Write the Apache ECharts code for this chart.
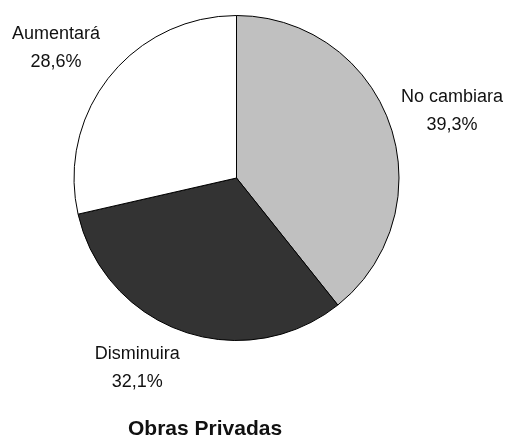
<!DOCTYPE html>
<html>
<head>
<meta charset="utf-8">
<script src="https://cdn.jsdelivr.net/npm/echarts@6/dist/echarts.min.js"></script>
<style>
  html, body { margin: 0; padding: 0; background: #fff; }
  #chart { width: 506px; height: 437px; }
</style>
</head>
<body>
<div id="chart"></div>
<script>
// datos (orden horario desde las 12)
const categorias = ['No cambiara', 'Disminuira', 'Aumentará'];
const valores = [11, 9, 8];
const colores = ['#c0c0c0', '#333333', '#ffffff'];
const titulo = 'Obras Privadas';

const chart = echarts.init(document.getElementById('chart'));

const cx = 236.5, cy = 178, radio = 162.5;
const total = valores.reduce((a, b) => a + b, 0);
const fuente = 'Liberation Sans, Arial, sans-serif';
// pequeños ajustes de las etiquetas (como las pone Excel)
const ajusteEtiqueta = [[6, 6], [-26, -20], [-7, 8.5]];

function anguloMedio(i) {
  let acc = 0;
  for (let k = 0; k < i; k++) acc += valores[k];
  return ((acc + valores[i] / 2) / total) * Math.PI * 2;
}

const option = {
  animation: false,
  backgroundColor: '#ffffff',
  title: {
    text: titulo,
    left: 123,
    top: 414,
    textStyle: {
      fontFamily: fuente,
      fontSize: 21,
      fontWeight: 'bold',
      color: '#111'
    }
  },
  series: [{
    type: 'pie',
    center: [cx, cy],
    radius: [0, radio],
    startAngle: 90,
    clockwise: true,
    avoidLabelOverlap: false,
    itemStyle: { borderColor: '#000', borderWidth: 1 },
    emphasis: { disabled: true },
    label: {
      show: true,
      position: 'outside',
      fontFamily: fuente,
      fontSize: 18,
      color: '#111',
      formatter: function (p) {
        return '{n|' + p.name + '}\n{v|' + (p.value / total * 100).toFixed(1).replace('.', ',') + '%}';
      },
      rich: {
        n: { align: 'center', fontSize: 18, lineHeight: 28, color: '#111', fontFamily: fuente },
        v: { align: 'center', fontSize: 18, lineHeight: 28, color: '#111', fontFamily: fuente }
      }
    },
    labelLine: { show: false },
    labelLayout: function (p) {
      const a = anguloMedio(p.dataIndex);
      const d = 222;
      const aj = ajusteEtiqueta[p.dataIndex];
      return {
        x: cx + d * Math.sin(a) + aj[0],
        y: cy - d * Math.cos(a) + aj[1],
        align: 'center',
        verticalAlign: 'middle'
      };
    },
    data: categorias.map((c, i) => ({
      name: c,
      value: valores[i],
      itemStyle: { color: colores[i] }
    }))
  }]
};

chart.setOption(option);
</script>
</body>
</html>
